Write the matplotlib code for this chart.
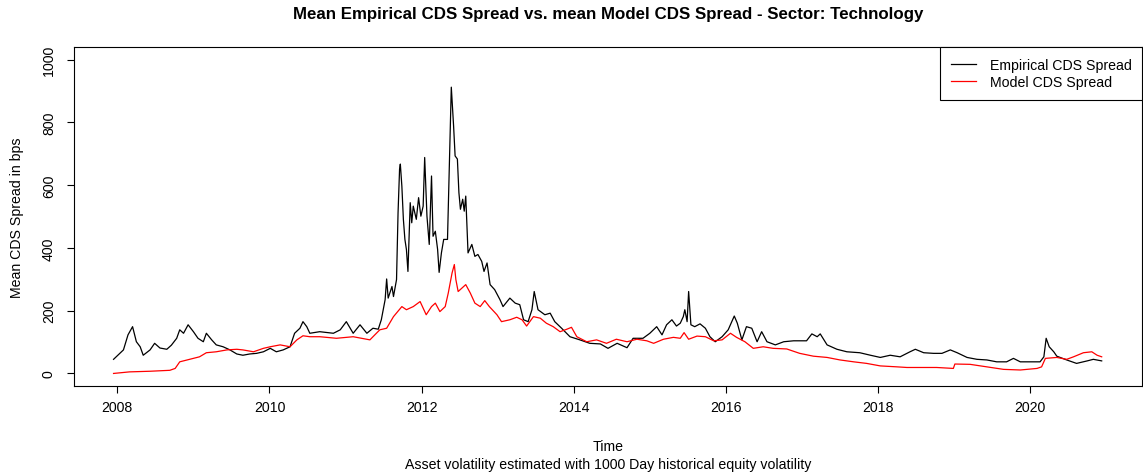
import matplotlib
matplotlib.use("Agg")
import matplotlib.pyplot as plt

# Data (decimal year, spread in bps)
emp_years = [
    2007.95, 2008.08, 2008.14, 2008.20, 2008.25, 2008.30, 2008.34, 2008.43,
    2008.49, 2008.56, 2008.65, 2008.71, 2008.78, 2008.82, 2008.87, 2008.93,
    2009.00, 2009.06, 2009.13, 2009.17, 2009.24, 2009.30, 2009.39, 2009.48,
    2009.57, 2009.65, 2009.74, 2009.83, 2009.92, 2010.01, 2010.09, 2010.18,
    2010.27, 2010.33, 2010.40, 2010.44, 2010.49, 2010.53, 2010.66, 2010.84,
    2010.93, 2011.01, 2011.10, 2011.19, 2011.28, 2011.36, 2011.43, 2011.47,
    2011.52, 2011.54, 2011.56, 2011.61, 2011.63, 2011.67, 2011.69, 2011.71,
    2011.72, 2011.74, 2011.76, 2011.78, 2011.80, 2011.82, 2011.85, 2011.87,
    2011.89, 2011.93, 2011.96, 2011.99, 2012.02, 2012.04, 2012.07, 2012.10,
    2012.13, 2012.15, 2012.18, 2012.21, 2012.23, 2012.26, 2012.29, 2012.34,
    2012.36, 2012.39, 2012.42, 2012.44, 2012.47, 2012.49, 2012.51, 2012.54,
    2012.56, 2012.58, 2012.61, 2012.66, 2012.70, 2012.74, 2012.79, 2012.82,
    2012.86, 2012.90, 2012.96, 2013.03, 2013.07, 2013.16, 2013.23, 2013.29,
    2013.34, 2013.40, 2013.45, 2013.48, 2013.53, 2013.62, 2013.69, 2013.75,
    2013.84, 2013.95, 2014.08, 2014.21, 2014.35, 2014.45, 2014.57, 2014.70,
    2014.78, 2014.91, 2015.00, 2015.09, 2015.16, 2015.22, 2015.29, 2015.35,
    2015.40, 2015.44, 2015.46, 2015.49, 2015.51, 2015.54, 2015.59, 2015.66,
    2015.73, 2015.79, 2015.86, 2015.95, 2016.03, 2016.11, 2016.15, 2016.21,
    2016.27, 2016.34, 2016.41, 2016.47, 2016.54, 2016.65, 2016.76, 2016.89,
    2017.06, 2017.13, 2017.20, 2017.24, 2017.33, 2017.46, 2017.59, 2017.76,
    2017.90, 2018.03, 2018.16, 2018.29, 2018.42, 2018.49, 2018.60, 2018.73,
    2018.84, 2018.95, 2019.04, 2019.17, 2019.30, 2019.43, 2019.56, 2019.69,
    2019.78, 2019.87, 2020.00, 2020.13, 2020.18, 2020.21, 2020.25, 2020.31,
    2020.35, 2020.48, 2020.61, 2020.75, 2020.83, 2020.94,
]
emp_spread = [
    45, 75, 123, 149, 101, 85, 58, 75,
    96, 81, 77, 90, 112, 139, 128, 155,
    133, 112, 101, 128, 107, 91, 85, 75,
    62, 58, 62, 64, 69, 80, 69, 75,
    85, 128, 144, 165, 149, 128, 133, 128,
    139, 165, 128, 155, 128, 144, 141, 171,
    235, 301, 240, 277, 245, 299, 512, 651,
    667, 597, 491, 427, 395, 325, 544, 480,
    533, 491, 560, 501, 533, 688, 501, 411,
    629, 437, 453, 395, 322, 384, 427, 427,
    619, 912, 789, 693, 683, 576, 523, 555,
    517, 565, 384, 411, 373, 379, 357, 325,
    352, 283, 267, 235, 213, 240, 224, 219,
    171, 165, 203, 261, 203, 187, 192, 165,
    144, 117, 107, 96, 94, 80, 96, 82,
    112, 112, 128, 149, 123, 155, 171, 151,
    160, 181, 203, 165, 261, 155, 149, 158,
    144, 117, 101, 117, 139, 183, 160, 107,
    149, 144, 101, 133, 101, 91, 101, 104,
    104, 126, 117, 126, 91, 77, 69, 66,
    58, 51, 58, 53, 69, 77, 66, 64,
    64, 75, 66, 51, 45, 43, 37, 37,
    48, 37, 37, 37, 53, 112, 85, 69,
    55, 43, 32, 40, 45, 40,
]

model_years = [
    2007.95, 2008.16, 2008.43, 2008.69, 2008.76, 2008.82, 2008.95, 2009.08,
    2009.17, 2009.30, 2009.44, 2009.57, 2009.65, 2009.79, 2009.92, 2010.01,
    2010.14, 2010.27, 2010.36, 2010.44, 2010.53, 2010.66, 2010.88, 2011.10,
    2011.32, 2011.45, 2011.54, 2011.63, 2011.74, 2011.80, 2011.89, 2011.98,
    2012.06, 2012.13, 2012.18, 2012.24, 2012.31, 2012.35, 2012.40, 2012.43,
    2012.45, 2012.48, 2012.53, 2012.58, 2012.64, 2012.70, 2012.77, 2012.83,
    2012.89, 2012.99, 2013.05, 2013.16, 2013.25, 2013.32, 2013.38, 2013.47,
    2013.56, 2013.64, 2013.73, 2013.82, 2013.91, 2013.97, 2014.04, 2014.17,
    2014.30, 2014.43, 2014.56, 2014.70, 2014.83, 2014.96, 2015.05, 2015.18,
    2015.31, 2015.40, 2015.45, 2015.51, 2015.62, 2015.73, 2015.84, 2015.95,
    2016.06, 2016.14, 2016.25, 2016.36, 2016.49, 2016.62, 2016.80, 2016.97,
    2017.15, 2017.33, 2017.50, 2017.68, 2017.85, 2018.03, 2018.25, 2018.38,
    2018.60, 2018.77, 2018.99, 2019.01, 2019.21, 2019.43, 2019.65, 2019.87,
    2020.09, 2020.15, 2020.20, 2020.35, 2020.48, 2020.57, 2020.70, 2020.81,
    2020.88, 2020.94,
]
model_spread = [
    0, 5, 7, 10, 16, 37, 45, 53,
    66, 69, 75, 77, 75, 69, 80, 85,
    91, 85, 107, 120, 117, 117, 112, 117,
    107, 139, 144, 181, 213, 203, 213, 229,
    187, 213, 224, 197, 213, 256, 320, 347,
    299, 261, 272, 283, 256, 224, 213, 232,
    213, 187, 165, 171, 179, 171, 151, 181,
    176, 160, 149, 133, 141, 147, 117, 101,
    107, 96, 109, 101, 109, 104, 96, 109,
    115, 112, 130, 109, 119, 117, 104, 107,
    128, 115, 101, 80, 85, 80, 78, 64,
    55, 51, 43, 37, 32, 24, 21, 19,
    19, 19, 16, 30, 29, 21, 13, 11,
    16, 21, 48, 51, 45, 53, 66, 69,
    58, 53,
]

year_ticks = [2008, 2010, 2012, 2014, 2016, 2018, 2020]
spread_ticks = [0, 200, 400, 600, 800, 1000]

W, H = 1143, 477
plt.rcParams['font.family'] = ['Liberation Sans', 'DejaVu Sans']

fig = plt.figure(figsize=(W / 100, H / 100), dpi=100)
ax = fig.add_axes([74 / W, 1 - 387 / H, (1142 - 74) / W, (387 - 48) / H])

ax.plot(emp_years, emp_spread, color='black', lw=0.9, label='Empirical CDS Spread')
ax.plot(model_years, model_spread, color='red', lw=0.9, label='Model CDS Spread')

# R style axes: 4% padding around data range
x0, x1 = 2007.95, 2020.95
ax.set_xlim(x0 - 0.04 * (x1 - x0), x1 + 0.04 * (x1 - x0))
ax.set_ylim(-40, 1040)
ax.set_xticks(year_ticks)
ax.set_yticks(spread_ticks)
ax.set_xticklabels([str(y) for y in year_ticks])
ax.set_yticklabels([str(v) for v in spread_ticks], rotation=90, va='center')
ax.tick_params(direction='out', length=5, width=0.8, labelsize=10.2, color='black')
ax.tick_params(axis='x', pad=5)
ax.tick_params(axis='y', pad=8)
for s in ax.spines.values():
    s.set_linewidth(0.8)
    s.set_color('black')

leg = ax.legend(loc='upper right', bbox_to_anchor=(1, 1), borderaxespad=0,
                fancybox=False, framealpha=1, edgecolor='black', fontsize=10.2,
                handlelength=1.8, handletextpad=0.95, borderpad=0.75,
                labelspacing=0.25)
leg.get_frame().set_linewidth(0.8)

fig.text(608 / W, 1 - 15 / H, 'Mean Empirical CDS Spread vs. mean Model CDS Spread - Sector: Technology',
         ha='center', va='center', fontsize=12.2, fontweight='bold')
fig.text(608 / W, 1 - 447 / H, 'Time', ha='center', va='center', fontsize=10.2)
fig.text(608 / W, 1 - 465 / H, 'Asset volatility estimated with 1000 Day historical equity volatility',
         ha='center', va='center', fontsize=10.2)
fig.text(17 / W, 1 - 218 / H, 'Mean CDS Spread in bps', ha='center', va='center',
         rotation=90, fontsize=10.2)

fig.savefig('out.png', dpi=100)
